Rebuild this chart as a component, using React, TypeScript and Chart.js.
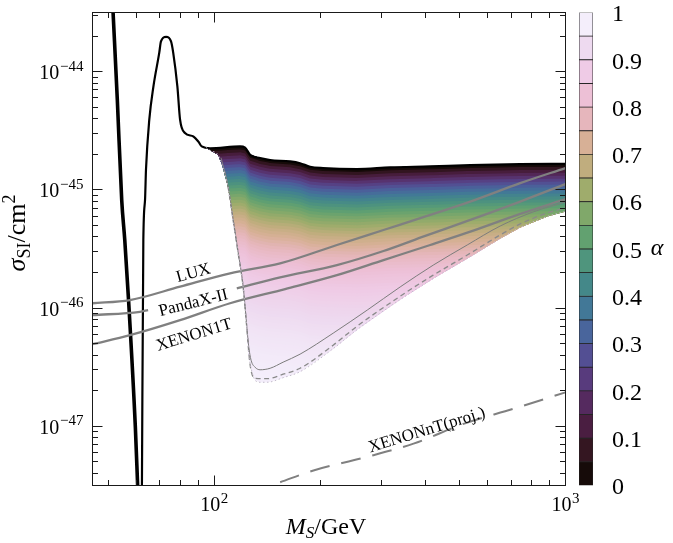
import React, { useEffect, useRef } from 'react';
import { Chart, registerables } from 'chart.js';

Chart.register(...registerables);

const FONT = "'Liberation Serif', 'DejaVu Serif', 'Times New Roman', serif";

const X_MIN = 45;
const X_MAX = 1000;
const Y_MIN = 10 ** -47.5;
const Y_MAX = 10 ** -43.5;

const X_DECADES = [2, 3];
const Y_DECADES = [-44, -45, -46, -47];

// Black curve: right branch of the Higgs resonance and upper edge of the coloured region
const TOP_X = [62.2, 62.8, 63.5, 63.9, 65.3, 67.1, 69.7, 70.5, 72.9, 75.3, 76.4, 78.5, 79.9, 82.5, 87.2, 90.1, 92.1, 97.3, 118.4, 122.4, 126.5, 135, 144.2, 164.4, 175.5, 187.4, 204.1, 255, 316.8, 412, 535.6, 743, 1000];
const TOP_S = [2.5e-48, 3.77e-46, 8.2e-46, 1.48e-45, 3.92e-45, 7.5e-45, 1.44e-44, 1.8e-44, 1.97e-44, 1.8e-44, 1.44e-44, 7.5e-45, 3.92e-45, 3.03e-45, 2.83e-45, 2.56e-45, 2.33e-45, 2.25e-45, 2.33e-45, 2.28e-45, 1.98e-45, 1.86e-45, 1.79e-45, 1.74e-45, 1.68e-45, 1.57e-45, 1.53e-45, 1.50e-45, 1.55e-45, 1.58e-45, 1.62e-45, 1.65e-45, 1.66e-45];

// Black thick curve: left branch of the resonance
const LEFT_X = [51.5, 52.95, 54.5, 55.6, 57.0, 59.6, 60.5];
const LEFT_S = [3.16e-44, 5.8e-45, 8.2e-46, 3.77e-46, 1.17e-46, 9.8e-48, 3.16e-48];

// Lower edge of the coloured region
const BOT_X = [94.8, 97.9, 102.5, 105.2, 109.4, 113.1, 116.9, 120.8, 123.2, 125.2, 127.3, 130.7, 135, 141.4, 157, 175.5, 218, 255.2, 338.2, 420.1, 525.1, 651.9, 743.2, 887.6, 1000];
const BOT_S = [2.28e-45, 2.14e-45, 1.98e-45, 1.63e-45, 1.06e-45, 5.57e-46, 2.92e-46, 1.51e-46, 7.91e-47, 4.16e-47, 3.10e-47, 2.45e-47, 2.36e-47, 2.36e-47, 2.58e-47, 2.90e-47, 4.54e-47, 6.58e-47, 1.18e-46, 1.78e-46, 2.63e-46, 3.88e-46, 4.81e-46, 5.96e-46, 6.57e-46];

// Thin grey dashed contour
const DASH_X = [106.6, 109.4, 113.1, 116.9, 120.8, 123.2, 126.5, 130.7, 141.4, 157, 175.5, 218, 255.2, 338.2, 420.1, 525.1, 651.9, 743.2, 887.6, 1000];
const DASH_S = [1.48e-45, 1.06e-45, 5.57e-46, 2.92e-46, 1.51e-46, 7.91e-47, 3.29e-47, 2.55e-47, 2.53e-47, 2.76e-47, 3.10e-47, 4.86e-47, 7.04e-47, 1.26e-46, 1.90e-46, 2.81e-46, 4.16e-46, 5.15e-46, 6.38e-46, 7.04e-46];

// Thin grey solid contour
const THIN_X = [104.5, 109.4, 113.1, 116.9, 120.8, 123.2, 125.2, 127.3, 130.7, 135, 144.2, 157, 175.5, 218, 272.5, 338.2, 420.1, 525.1, 651.9, 809.5, 1000];
const THIN_S = [1.87e-45, 1.08e-45, 5.7e-46, 2.98e-46, 1.54e-46, 8.22e-47, 4.86e-47, 3.62e-47, 3.16e-47, 3.01e-47, 3.10e-47, 3.49e-47, 4.08e-47, 6.14e-47, 9.62e-47, 1.51e-46, 2.31e-46, 3.42e-46, 4.95e-46, 6.51e-46, 7.91e-46];

// Experimental limits
const LUX_X = [45, 57.5, 79.9, 110.9, 154, 223.4, 303.2, 411.9, 535.6, 743.2, 1000];
const LUX_S = [1.10e-46, 1.17e-46, 1.52e-46, 1.97e-46, 2.39e-46, 3.42e-46, 4.58e-46, 6.14e-46, 7.96e-46, 1.14e-45, 1.53e-45];
const PANDAX_X = [45, 61.4, 64.8, 90, 115.9, 154, 223.4, 303.2, 398.6, 535.6, 743.2, 1000];
const PANDAX_S = [8.72e-47, 9.31e-47, 9.62e-47, null, 1.47e-46, 1.82e-46, 2.31e-46, 3.04e-46, 4.08e-46, 5.57e-46, 7.96e-46, 1.12e-45];
const XENON1T_X = [45, 57.5, 79.9, 110.9, 159.1, 223.4, 303.2, 411.9, 535.6, 743.2, 1000];
const XENON1T_S = [4.95e-47, 5.90e-47, 7.91e-47, 1.10e-46, 1.45e-46, 1.90e-46, 2.55e-46, 3.42e-46, 4.43e-46, 6.26e-46, 8.34e-46];
const XENONNT_X = [154, 191.6, 265.9, 369.2, 512.4, 711.4, 1000];
const XENONNT_S = [3.37e-48, 4.24e-48, 5.43e-48, 7.14e-48, 1.05e-47, 1.41e-47, 1.94e-47];

const LABELS = [
  { text: 'LUX', x: 87.2, y: 1.97e-46, angle: -15 },
  { text: 'PandaX-II', x: 87.2, y: 1.10e-46, angle: -14 },
  { text: 'XENON1T', x: 87.6, y: 5.9e-47, angle: -17 },
  { text: 'XENONnT(proj.)', x: 403, y: 9.25e-48, angle: -17 },
];

// Colour bar (alpha from 0 to 1 in steps of 0.05)
const CB_STEP = 0.05;
const CB_COLORS = ['#160b09', '#341621', '#4a1e41', '#552a5f', '#583b7d', '#534f93', '#49659c', '#427897', '#448889', '#4f957d', '#62a170', '#80a86a', '#9fac6c', '#c0ad7e', '#d7b096', '#e6b6bc', '#edc0d6', '#efcbe6', '#eedaf0', '#f4eefb'];
const ALPHA_TICKS = [0, 0.1, 0.2, 0.3, 0.4, 0.5, 0.6, 0.7, 0.8, 0.9, 1];

// shading: sigma(alpha) = sigma_top * (1 - alpha)^SHADE_EXP, clipped at the lower edge
const SHADE_EXP = 1.15;
const DEPTH_STEP = 0.025;

const lg = (v: number) => Math.log10(v);

function interpLL(xs: number[], ys: number[], x: number): number {
  if (x <= xs[0]) return ys[0];
  for (let i = 0; i < xs.length - 1; i++) {
    if (x >= xs[i] && x <= xs[i + 1]) {
      const t = (lg(x) - lg(xs[i])) / (lg(xs[i + 1]) - lg(xs[i]));
      return 10 ** (lg(ys[i]) + t * (lg(ys[i + 1]) - lg(ys[i])));
    }
  }
  return ys[ys.length - 1];
}

function hexRgb(h: string) {
  return [parseInt(h.slice(1, 3), 16), parseInt(h.slice(3, 5), 16), parseInt(h.slice(5, 7), 16)];
}

function cmap(a: number): string {
  const n = CB_COLORS.length;
  const p = Math.min(Math.max(a * n - 0.5, 0), n - 1);
  const i = Math.min(Math.floor(p), n - 2);
  const t = p - i;
  const c1 = hexRgb(CB_COLORS[i]);
  const c2 = hexRgb(CB_COLORS[i + 1]);
  const c = c1.map((v, k) => Math.round(v + t * (c2[k] - v)));
  return `rgb(${c[0]},${c[1]},${c[2]})`;
}

function buildShading() {
  const lo = BOT_X[0];
  const hi = BOT_X[BOT_X.length - 1];
  const grid = Array.from(new Set([...BOT_X, ...TOP_X.filter((v) => v >= lo && v <= hi)])).sort((a, b) => a - b);
  const lx = grid.map(lg);
  const lt = grid.map((x) => lg(interpLL(TOP_X, TOP_S, x)));
  const lb = grid.map((x) => lg(interpLL(BOT_X, BOT_S, x)));
  const maxDepth = Math.max(...lt.map((t, i) => t - lb[i]));
  const n = Math.ceil(maxDepth / DEPTH_STEP) + 1;
  const bands: { pts: { x: number; y: number }[]; color: string }[] = [];
  for (let j = 1; j <= n; j++) {
    const d = j * DEPTH_STEP;
    const pts: { x: number; y: number }[] = [];
    for (let i = 0; i < grid.length; i++) {
      const e = lt[i] - d - lb[i];
      pts.push({ x: grid[i], y: 10 ** Math.max(lt[i] - d, lb[i]) });
      if (i < grid.length - 1) {
        const e2 = lt[i + 1] - d - lb[i + 1];
        if ((e > 0 && e2 < 0) || (e < 0 && e2 > 0)) {
          const t = e / (e - e2);
          pts.push({ x: 10 ** (lx[i] + t * (lx[i + 1] - lx[i])), y: 10 ** (lb[i] + t * (lb[i + 1] - lb[i])) });
        }
      }
    }
    const alpha = 1 - 10 ** (-(d - DEPTH_STEP / 2) / SHADE_EXP);
    bands.push({ pts, color: cmap(alpha) });
  }
  const top = grid.map((x, i) => ({ x, y: 10 ** lt[i] }));
  return { top, bands };
}

type Part = { t: string; font: string; dy: number };

function drawRich(ctx: CanvasRenderingContext2D, parts: Part[], x: number, y: number, align: 'left' | 'center' | 'right') {
  let total = 0;
  const widths = parts.map((p) => {
    ctx.font = p.font;
    const w = ctx.measureText(p.t).width;
    total += w;
    return w;
  });
  let cx = align === 'left' ? x : align === 'center' ? x - total / 2 : x - total;
  ctx.textAlign = 'left';
  ctx.textBaseline = 'alphabetic';
  parts.forEach((p, i) => {
    ctx.font = p.font;
    ctx.fillText(p.t, cx, y + p.dy);
    cx += widths[i];
  });
}

const axesPlugin = {
  id: 'axesDecor',
  afterDraw(chart: any) {
    const { ctx, chartArea: a, scales } = chart;
    const xs = scales.x;
    const ys = scales.y;
    ctx.save();
    ctx.strokeStyle = '#1a1a1a';
    ctx.fillStyle = '#000';
    ctx.lineWidth = 1;
    const MAJ = 10;
    const MIN = 5.5;
    // x ticks
    for (let e = 1; e <= 3; e++) {
      for (let k = 1; k <= 9; k++) {
        const v = k * 10 ** e;
        if (v < X_MIN * 0.999 || v > X_MAX * 1.001) continue;
        const p = Math.floor(xs.getPixelForValue(v)) + 0.5;
        const len = k === 1 ? MAJ : MIN;
        ctx.beginPath();
        ctx.moveTo(p, a.bottom);
        ctx.lineTo(p, a.bottom - len);
        ctx.moveTo(p, a.top);
        ctx.lineTo(p, a.top + len);
        ctx.stroke();
      }
    }
    // y ticks
    for (let e = -48; e <= -44; e++) {
      for (let k = 1; k <= 9; k++) {
        const v = k * 10 ** e;
        if (v < Y_MIN * 0.999 || v > Y_MAX * 1.001) continue;
        const p = Math.floor(ys.getPixelForValue(v)) + 0.5;
        const len = k === 1 ? MAJ : MIN;
        ctx.beginPath();
        ctx.moveTo(a.left, p);
        ctx.lineTo(a.left + len, p);
        ctx.moveTo(a.right, p);
        ctx.lineTo(a.right - len, p);
        ctx.stroke();
      }
    }
    ctx.strokeRect(a.left, a.top, a.right - a.left, a.bottom - a.top);

    const big = `20px ${FONT}`;
    const small = `15px ${FONT}`;
    // y tick labels
    Y_DECADES.forEach((e) => {
      const p = ys.getPixelForValue(10 ** e);
      drawRich(ctx, [
        { t: '10', font: big, dy: 7.5 },
        { t: ' ', font: `3px ${FONT}`, dy: 0 },
        { t: '\u2212' + String(-e), font: small, dy: -1 },
      ], a.left - 9, p, 'right');
    });
    // x tick labels
    X_DECADES.forEach((e) => {
      const p = xs.getPixelForValue(10 ** e);
      drawRich(ctx, [
        { t: '10', font: big, dy: 0 },
        { t: ' ', font: `2px ${FONT}`, dy: 0 },
        { t: String(e), font: small, dy: -8 },
      ], p, a.bottom + 25, 'center');
    });
    // x title
    drawRich(ctx, [
      { t: 'M', font: `italic 24px ${FONT}`, dy: 0 },
      { t: 'S', font: `italic 17px ${FONT}`, dy: 4 },
      { t: '/GeV', font: `24px ${FONT}`, dy: 0 },
    ], (a.left + a.right) / 2 - 3, 534, 'center');
    // y title
    ctx.save();
    ctx.translate(25, (a.top + a.bottom) / 2 - 16);
    ctx.rotate(-Math.PI / 2);
    drawRich(ctx, [
      { t: '\u03c3', font: `italic 26px ${FONT}`, dy: 0 },
      { t: 'SI', font: `18px ${FONT}`, dy: 5 },
      { t: '/cm', font: `26px ${FONT}`, dy: 0 },
      { t: '2', font: `18px ${FONT}`, dy: -10 },
    ], 0, 0, 'center');
    ctx.restore();
    // inline labels
    LABELS.forEach((l) => {
      const px = xs.getPixelForValue(l.x);
      const py = ys.getPixelForValue(l.y);
      ctx.save();
      ctx.translate(px, py);
      ctx.rotate((l.angle * Math.PI) / 180);
      ctx.textAlign = 'center';
      ctx.textBaseline = 'middle';
      ctx.font = `17px ${FONT}`;
      ctx.fillText(l.text, 0, 0);
      ctx.restore();
    });
    ctx.restore();
  },
};

const alphaPlugin = {
  id: 'alphaLabel',
  afterDraw(chart: any) {
    const { ctx, chartArea: a } = chart;
    ctx.save();
    ctx.font = `italic 24px ${FONT}`;
    ctx.fillStyle = '#000';
    ctx.textAlign = 'center';
    ctx.textBaseline = 'middle';
    ctx.fillText('\u03b1', a.right + 64, (a.top + a.bottom) / 2);
    ctx.restore();
  },
};

function series(xs: number[], ys: (number | null)[]) {
  return xs.map((x, i) => ({ x, y: ys[i] }));
}

export default function App() {
  const mainRef = useRef<HTMLCanvasElement>(null);
  const cbRef = useRef<HTMLCanvasElement>(null);

  useEffect(() => {
    const shading = buildShading();
    const datasets: any[] = [];
    const base = { pointRadius: 0, clip: 0, tension: 0 };
    datasets.push({ ...base, data: shading.top, borderColor: 'rgba(0,0,0,0)', borderWidth: 0, fill: false, order: 10 });
    shading.bands.forEach((b) => {
      datasets.push({ ...base, data: b.pts, borderColor: 'rgba(0,0,0,0)', borderWidth: 0, fill: 0, backgroundColor: b.color, order: 10 });
    });
    const line = (data: any[], opts: any) => ({ ...base, data, fill: false, order: 0, cubicInterpolationMode: 'monotone', ...opts });
    datasets.push(line(series(BOT_X, BOT_S), { borderColor: '#c4bccb', borderWidth: 1, borderDash: [1.5, 2.5] }));
    datasets.push(line(series(THIN_X, THIN_S), { borderColor: '#7c7c7c', borderWidth: 1 }));
    datasets.push(line(series(DASH_X, DASH_S), { borderColor: '#8a8a8a', borderWidth: 1.3, borderDash: [5, 3.5] }));
    datasets.push(line(series(LUX_X, LUX_S), { borderColor: '#808080', borderWidth: 2.3 }));
    datasets.push(line(series(PANDAX_X, PANDAX_S), { borderColor: '#808080', borderWidth: 2.3, spanGaps: false }));
    datasets.push(line(series(XENON1T_X, XENON1T_S), { borderColor: '#808080', borderWidth: 2.3 }));
    datasets.push(line(series(XENONNT_X, XENONNT_S), { borderColor: '#808080', borderWidth: 2, borderDash: [20, 12] }));
    datasets.push(line(series(TOP_X, TOP_S), { borderColor: '#000', borderWidth: 2.2 }));
    datasets.push(line(series(LEFT_X, LEFT_S), { borderColor: '#000', borderWidth: 3.6 }));

    const main = new Chart(mainRef.current as HTMLCanvasElement, {
      type: 'line',
      data: { datasets },
      options: {
        responsive: false,
        animation: false,
        events: [],
        layout: { padding: { left: 92.5, right: 107.5, top: 12.5, bottom: 57.5 } },
        plugins: { legend: { display: false }, tooltip: { enabled: false } },
        scales: {
          x: { type: 'logarithmic', min: X_MIN, max: X_MAX, display: false },
          y: { type: 'logarithmic', min: Y_MIN, max: Y_MAX, display: false },
        },
      } as any,
      plugins: [axesPlugin],
    });

    const cb = new Chart(cbRef.current as HTMLCanvasElement, {
      type: 'bar',
      data: {
        labels: [''],
        datasets: CB_COLORS.map((c) => ({
          data: [CB_STEP],
          backgroundColor: c,
          borderColor: '#262626',
          borderWidth: 0.8,
          borderSkipped: false,
          barPercentage: 1,
          categoryPercentage: 1,
          stack: 'cb',
        })),
      },
      options: {
        responsive: false,
        animation: false,
        events: [],
        layout: { padding: { left: 0, right: 0, top: 12.5, bottom: 57.5 } },
        plugins: { legend: { display: false }, tooltip: { enabled: false } },
        scales: {
          x: { display: false, stacked: true },
          y: {
            stacked: true,
            position: 'right',
            min: 0,
            max: 1,
            grid: { display: false, drawTicks: false },
            border: { display: false },
            afterBuildTicks: (s: any) => {
              s.ticks = ALPHA_TICKS.map((v) => ({ value: v }));
            },
            ticks: {
              padding: 19,
              labelOffset: 2.5,
              color: '#000',
              font: { family: FONT, size: 24, lineHeight: 1 },
              callback: (v: any) => String(Math.round(Number(v) * 10) / 10),
            },
            afterFit: (s: any) => {
              s.width = 80;
              s.paddingTop = 0;
              s.paddingBottom = 0;
            },
          },
        },
      } as any,
      plugins: [alphaPlugin],
    });

    return () => {
      main.destroy();
      cb.destroy();
    };
  }, []);

  return (
    <div style={{ position: 'absolute', left: 0, top: 0, width: 673, height: 543, background: '#fff' }}>
      <canvas ref={mainRef} width={673} height={543} style={{ position: 'absolute', left: 0, top: 0 }} />
      <canvas ref={cbRef} width={94} height={543} style={{ position: 'absolute', left: 579, top: 0 }} />
    </div>
  );
}
